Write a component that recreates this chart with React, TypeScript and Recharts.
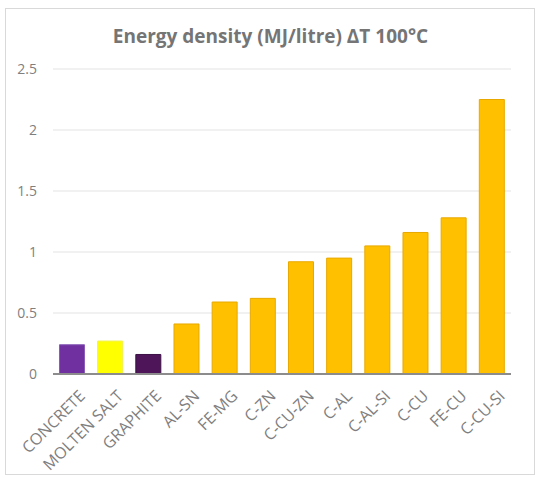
import React from 'react';
import { BarChart, Bar, XAxis, YAxis, CartesianGrid, Cell } from 'recharts';

const materials = [
  'CONCRETE',
  'MOLTEN SALT',
  'GRAPHITE',
  'AL-SN',
  'FE-MG',
  'C-ZN',
  'C-CU-ZN',
  'C-AL',
  'C-AL-SI',
  'C-CU',
  'FE-CU',
  'C-CU-SI',
];
const energyDensity = [0.24, 0.27, 0.16, 0.41, 0.59, 0.62, 0.92, 0.95, 1.05, 1.16, 1.28, 2.25];
const barColors = [
  '#7030a0',
  '#ffff00',
  '#4e1659',
  '#ffc000',
  '#ffc000',
  '#ffc000',
  '#ffc000',
  '#ffc000',
  '#ffc000',
  '#ffc000',
  '#ffc000',
  '#ffc000',
];
const barEdges = [
  '#8a5cb8',
  '#f2f24a',
  '#3a1045',
  '#e8a800',
  '#e8a800',
  '#e8a800',
  '#e8a800',
  '#e8a800',
  '#e8a800',
  '#e8a800',
  '#e8a800',
  '#e8a800',
];
const yTicks = [0, 0.5, 1, 1.5, 2, 2.5];

const data = materials.map((name, i) => ({ name, value: energyDensity[i] }));

const FONT = '"Open Sans", "Liberation Sans", sans-serif';
const LABEL = '#7f7f7f';

const SlantedTick = (props: any) => {
  const { x, y, payload } = props;
  return (
    <g transform={`translate(${x + 10},${y + 11})`}>
      <text
        x={0}
        y={0}
        dy="0.35em"
        textAnchor="end"
        transform="rotate(-45)"
        fontFamily={FONT}
        fontSize={16}
        fill={LABEL}
      >
        {payload.value}
      </text>
    </g>
  );
};

export default function App() {
  return (
    <div
      style={{
        position: 'absolute',
        left: 0,
        top: 0,
        width: 541,
        height: 479,
        background: '#fff',
      }}
    >
      <div
        style={{
          position: 'absolute',
          left: 5,
          top: 8,
          width: 530,
          height: 467,
          border: '1px solid #d9d9d9',
          boxSizing: 'border-box',
        }}
      />
      <div
        style={{
          position: 'absolute',
          left: 0,
          top: 23,
          width: 541,
          textAlign: 'center',
          fontFamily: FONT,
          fontWeight: 700,
          fontSize: 19,
          color: '#757575',
        }}
      >
        Energy density (MJ/litre) ΔT 100°C
      </div>
      <div style={{ position: 'absolute', left: 0, top: 0 }}>
        <BarChart
          width={541}
          height={479}
          data={data}
          margin={{ top: 69, right: 30, bottom: 0, left: 0 }}
          barCategoryGap="17%"
        >
          <CartesianGrid vertical={false} stroke="#e3e3e3" />
          <XAxis
            dataKey="name"
            interval={0}
            tickLine={false}
            axisLine={{ stroke: '#8c8c8c', strokeWidth: 2 }}
            tick={<SlantedTick />}
            height={105}
          />
          <YAxis
            width={53}
            domain={[0, 2.5]}
            ticks={yTicks}
            axisLine={false}
            tickLine={false}
            tickMargin={10}
            tick={{ fontFamily: FONT, fontSize: 14, fill: LABEL }}
          />
          <Bar dataKey="value" isAnimationActive={false}>
            {data.map((d, i) => (
              <Cell key={d.name} fill={barColors[i]} stroke={barEdges[i]} strokeWidth={1} />
            ))}
          </Bar>
        </BarChart>
      </div>
    </div>
  );
}
